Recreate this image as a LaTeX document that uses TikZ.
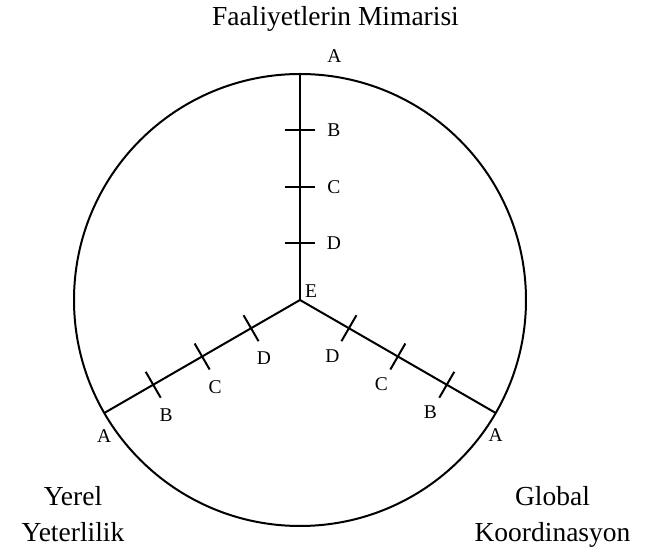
\documentclass[tikz,border=0pt]{standalone}
\usepackage{fontspec}
\setmainfont{Liberation Serif}
\usetikzlibrary{calc}
\tikzset{
    axisline/.style={line width=2pt, black},
    tickmark/.style={line width=2pt, black},
    ptlabel/.style={font=\fontsize{19.5}{22}\selectfont, inner sep=0pt},
    dimtitle/.style={font=\fontsize{27.5}{36}\selectfont, align=center, inner sep=0pt}
}

\begin{document}
\begin{tikzpicture}[x=1pt, y=1pt]
        \useasboundingbox (-300,-253) rectangle (345,300);

        % Daire ve eksenler
        \coordinate (E) at (0,0);
        \coordinate (Atop) at (90:226);
        \coordinate (Aleft) at (210:226);
        \coordinate (Aright) at (330:226);
        \draw[axisline] (E) circle[radius=226pt];
        \draw[axisline] (E) -- (Atop);
        \draw[axisline] (E) -- (Aleft);
        \draw[axisline] (E) -- (Aright);

        % Uc noktalari
        \node[ptlabel] (lEtop) at ($(E)+(11,9)$) {E};
        \node[ptlabel] (lAtop) at ($(Atop)+(34.5,17.5)$) {A};
        \node[ptlabel] (lAleft) at ($(Aleft)+(0,-23)$) {A};
        \node[ptlabel] (lAright) at ($(Aright)+(0,-22)$) {A};

        % Olcek cizgileri
        \foreach \k/\lab in {1/D, 2/C, 3/B} {
            % dikey eksen
            \coordinate (t90\lab) at (90:56.5*\k);
            \draw[tickmark] ($(t90\lab)+(-15,0)$) -- ($(t90\lab)+(15,0)$);
            \node[ptlabel] (l90\lab) at ($(t90\lab)+(34,0)$) {\lab};
            % sol eksen
            \coordinate (t210\lab) at (210:56.5*\k);
            \draw[tickmark] ($(t210\lab)+(120:15)$) -- ($(t210\lab)+(300:15)$);
            \node[ptlabel] (l210\lab) at ($(t210\lab)+(-67:33)$) {\lab};
            % sag eksen
            \coordinate (t330\lab) at (330:56.5*\k);
            \draw[tickmark] ($(t330\lab)+(60:15)$) -- ($(t330\lab)+(240:15)$);
            \node[ptlabel] (l330\lab) at ($(t330\lab)+(239:32)$) {\lab};
        }

        % Basliklar
        \node[dimtitle, anchor=base] (mimari) at (35.5,274) {Faaliyetlerin Mimarisi};
        \node[dimtitle, anchor=base] (yerel) at (-227,-242) {Yerel\\Yeterlilik};
        \node[dimtitle, anchor=base] (global) at (252.5,-242) {Global\\Koordinasyon};
    \end{tikzpicture}
\end{document}
